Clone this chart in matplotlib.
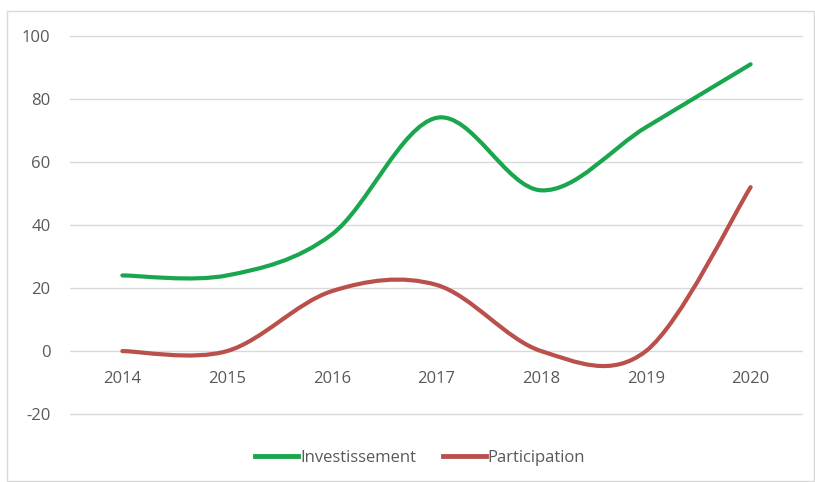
import numpy as np
import matplotlib
matplotlib.use('Agg')
import matplotlib.pyplot as plt
from matplotlib.path import Path
from matplotlib.patches import PathPatch, Rectangle
from matplotlib.lines import Line2D

years = ['2014', '2015', '2016', '2017', '2018', '2019', '2020']
investissement = [24, 24, 37, 74, 51, 71, 91]
participation = [0, 0, 19, 21, 0, 0, 52]

green = '#1aa64f'
red = '#b9504c'
grey_txt = '#595959'
grid_col = '#d9d9d9'


def smooth_path(xs, ys):
    # excel style smoothed line: cubic bezier, control points at 1/6 of neighbours
    pts = np.column_stack([xs, ys]).astype(float)
    n = len(pts)
    verts = [pts[0]]
    codes = [Path.MOVETO]
    for i in range(n - 1):
        p0 = pts[i - 1] if i > 0 else pts[i]
        p1 = pts[i]
        p2 = pts[i + 1]
        p3 = pts[i + 2] if i + 2 < n else pts[i + 1]
        c1 = p1 + (p2 - p0) / 6.0
        c2 = p2 - (p3 - p1) / 6.0
        verts += [c1, c2, p2]
        codes += [Path.CURVE4] * 3
    return Path(verts, codes)


plt.rcParams['font.family'] = ['Open Sans', 'DejaVu Sans']
plt.rcParams['axes.unicode_minus'] = False

fig = plt.figure(figsize=(8.15, 4.82), dpi=100)
fig.patch.set_facecolor('white')

# chart border
fig.patches.append(Rectangle((7 / 815, 1 / 482), 807 / 815, 470 / 482,
                             transform=fig.transFigure, fill=False,
                             edgecolor='#d9d9d9', lw=1))

ax = fig.add_axes([70 / 815, 1 - 416 / 482, 733 / 815, 382 / 482])
ax.set_xlim(-0.5, len(years) - 0.5)
ax.set_ylim(-20.6, 100.6)
ax.set_yticks(range(-20, 101, 20))
ax.yaxis.grid(True, color=grid_col, lw=1)
ax.set_axisbelow(True)
for s in ax.spines.values():
    s.set_visible(False)
ax.tick_params(axis='y', length=0, pad=14, labelsize=12, labelcolor=grey_txt)
ax.tick_params(axis='x', length=0)
ax.set_xticks([])

x = np.arange(len(years))
ax.add_patch(PathPatch(smooth_path(x, investissement), fill=False,
                       edgecolor=green, lw=3, capstyle='round', joinstyle='round'))
ax.add_patch(PathPatch(smooth_path(x, participation), fill=False,
                       edgecolor=red, lw=3, capstyle='round', joinstyle='round'))

# category labels sit under the zero line
for i, y in enumerate(years):
    ax.annotate(y, (i, 0), xytext=(0, -14), textcoords='offset points',
                ha='center', va='top', fontsize=12, color=grey_txt)

handles = [Line2D([], [], color=green, lw=3.5),
           Line2D([], [], color=red, lw=3.5)]
fig.legend(handles, ['Investissement', 'Participation'], loc='center',
           bbox_to_anchor=(420 / 815, 1 - 458 / 482), ncol=2, frameon=False,
           fontsize=12, labelcolor=grey_txt, handlelength=2.6,
           handletextpad=0.1, columnspacing=1.6)

fig.savefig('out.png', dpi=100)
